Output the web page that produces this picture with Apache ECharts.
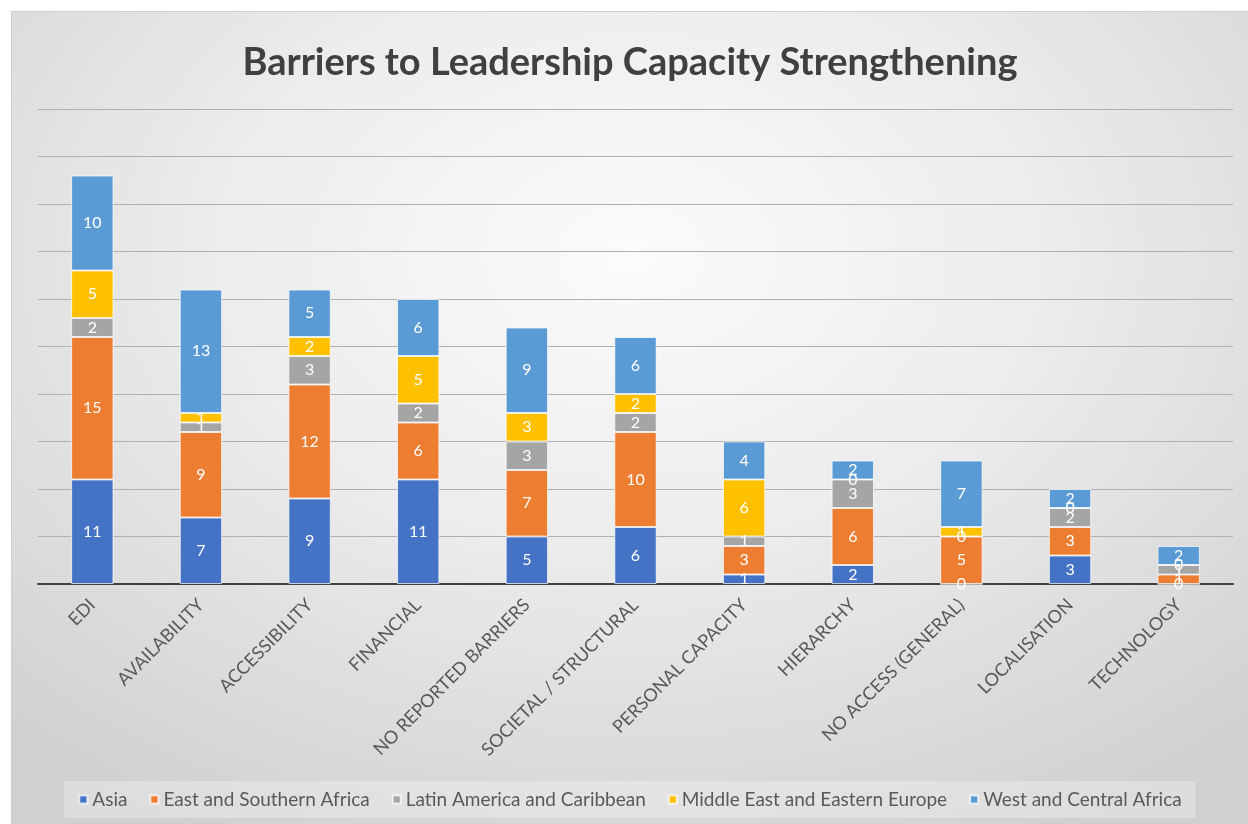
<!DOCTYPE html>
<html>
<head>
<meta charset="utf-8">
<script src="https://cdn.jsdelivr.net/npm/echarts@6/dist/echarts.min.js"></script>
<style>
  html, body { margin: 0; padding: 0; background: #ffffff; width: 1248px; height: 824px; overflow: hidden; }
  #chart {
    position: absolute; left: 11px; top: 11px; width: 1237px; height: 813px;
    background: radial-gradient(ellipse 75% 80% at 50% 30%, #fbfbfb 0%, #ececec 45%, #d0d0d0 100%);
    border-top: 1px solid #cfcfcf; border-left: 1px solid #cfcfcf; box-sizing: border-box;
  }
</style>
</head>
<body>
<div id="chart"></div>
<script>
// Barrier categories (x axis)
const categories = [
  'EDI', 'AVAILABILITY', 'ACCESSIBILITY', 'FINANCIAL', 'NO REPORTED BARRIERS',
  'SOCIETAL / STRUCTURAL', 'PERSONAL CAPACITY', 'HIERARCHY', 'NO ACCESS (GENERAL)',
  'LOCALISATION', 'TECHNOLOGY'
];

// Counts per region
const asia        = [11, 7, 9, 11, 5, 6, 1, 2, 0, 3, 0];
const eastSouth   = [15, 9, 12, 6, 7, 10, 3, 6, 5, 3, 1];
const latAm       = [2, 1, 3, 2, 3, 2, 1, 3, 0, 2, 1];
const midEast     = [5, 1, 2, 5, 3, 2, 6, 0, 1, 0, 0];
const westCentral = [10, 13, 5, 6, 9, 6, 4, 2, 7, 2, 2];

const seriesDefs = [
  { name: 'Asia', data: asia, color: '#4472C4' },
  { name: 'East and Southern Africa', data: eastSouth, color: '#ED7D31' },
  { name: 'Latin America and Caribbean', data: latAm, color: '#A5A5A5' },
  { name: 'Middle East and Eastern Europe', data: midEast, color: '#FFC000' },
  { name: 'West and Central Africa', data: westCentral, color: '#5B9BD5' }
];

const FONT = 'Lato, "Open Sans", sans-serif';

const chart = echarts.init(document.getElementById('chart'), null, { renderer: 'canvas' });

chart.setOption({
  backgroundColor: 'transparent',
  animation: false,
  title: {
    text: 'Barriers to Leadership Capacity Strengthening',
    left: 'center',
    top: 27,
    textStyle: { fontFamily: FONT, fontSize: 38, fontWeight: 'bold', color: '#404040' }
  },
  legend: {
    bottom: 6,
    left: 'center',
    itemWidth: 8,
    itemHeight: 8,
    itemGap: 22,
    icon: 'rect',
    padding: [9, 14, 9, 14],
    backgroundColor: 'rgba(255,255,255,0.28)',
    textStyle: { fontFamily: FONT, fontSize: 19, color: '#595959' },
    data: seriesDefs.map(s => s.name)
  },
  grid: { left: 26, right: 15, top: 97, bottom: 240, containLabel: false },
  xAxis: {
    type: 'category',
    data: categories,
    axisLine: { lineStyle: { color: '#404040', width: 2 } },
    axisTick: { show: false },
    axisLabel: {
      rotate: 45, interval: 0, margin: 18,
      fontFamily: FONT, fontSize: 18, color: '#595959'
    }
  },
  yAxis: {
    type: 'value',
    min: 0, max: 50, interval: 5,
    axisLabel: { show: false },
    axisLine: { show: false },
    axisTick: { show: false },
    splitLine: { lineStyle: { color: '#b0b0b0', width: 1 } }
  },
  series: seriesDefs.map(s => ({
    name: s.name,
    type: 'bar',
    stack: 'total',
    barCategoryGap: '61%',
    data: s.data,
    itemStyle: { color: s.color, borderColor: 'rgba(255,255,255,0.7)', borderWidth: 1 },
    label: {
      show: true,
      position: 'inside',
      color: '#ffffff',
      fontFamily: FONT,
      fontSize: 16,
      formatter: p => String(p.value)
    }
  }))
});
</script>
</body>
</html>
